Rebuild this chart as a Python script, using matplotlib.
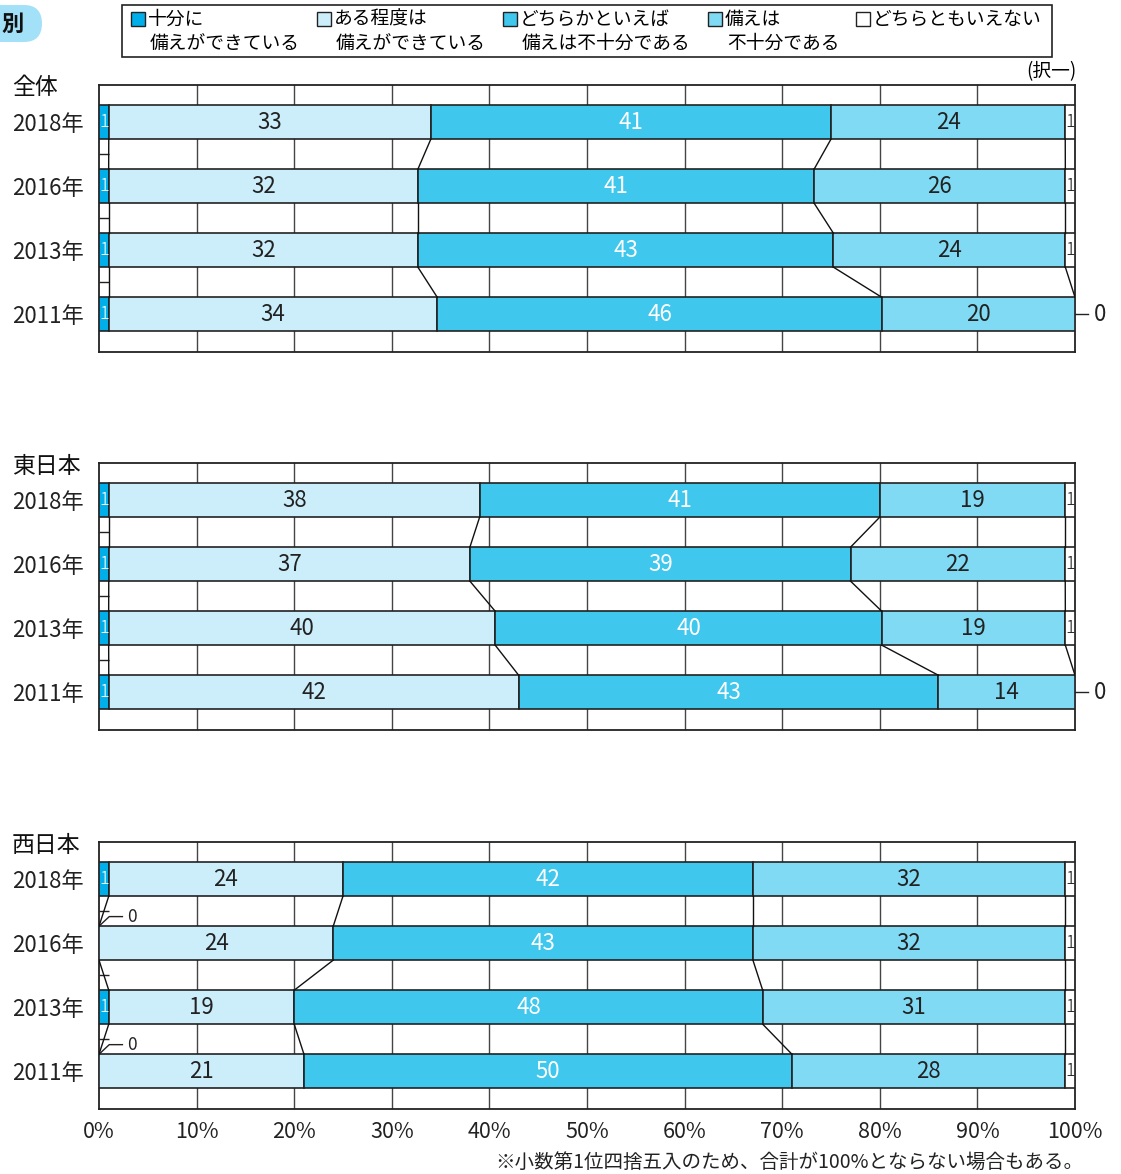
import matplotlib.pyplot as plt
from matplotlib.patches import Rectangle, FancyBboxPatch
import numpy as np

plt.rcParams['font.family'] = ['Noto Sans CJK JP', 'DejaVu Sans']

# data
years = ['2018年', '2016年', '2013年', '2011年']
regions = ['全体', '東日本', '西日本']
categories = ['十分に\n備えができている', 'ある程度は\n備えができている',
              'どちらかといえば\n備えは不十分である', '備えは\n不十分である',
              'どちらともいえない']
zentai = [[1, 33, 41, 24, 1],
          [1, 32, 41, 26, 1],
          [1, 32, 43, 24, 1],
          [1, 34, 46, 20, 0]]
higashi = [[1, 38, 41, 19, 1],
           [1, 37, 39, 22, 1],
           [1, 40, 40, 19, 1],
           [1, 42, 43, 14, 0]]
nishi = [[1, 24, 42, 32, 1],
         [0, 24, 43, 32, 1],
         [1, 19, 48, 31, 1],
         [0, 21, 50, 28, 1]]
xticks = [0, 10, 20, 30, 40, 50, 60, 70, 80, 90, 100]

colors = ['#00AEEA', '#CCEEFA', '#3FC7EE', '#80DAF4', '#FFFFFF']
BAR_H = 0.53

W, H = 1121, 1174
fig = plt.figure(figsize=(W / 100, H / 100), dpi=100)


def fx(px):
    return px / W


def fy(py):
    return 1 - py / H


# badge at top left
fig.patches.append(FancyBboxPatch((fx(-30), fy(42)), fx(72), 37 / H,
                                  boxstyle='round,pad=0,rounding_size=0.016',
                                  transform=fig.transFigure, facecolor='#A3E1F8',
                                  edgecolor='none'))
fig.text(fx(1), fy(24), '別', ha='left', va='center', fontsize=16,
         fontweight='bold', color='#111')

# legend box
fig.patches.append(Rectangle((fx(122), fy(57)), fx(1052) - fx(122), 52 / H,
                             transform=fig.transFigure, facecolor='white',
                             edgecolor='#222', lw=1.2))
leg_x = [131, 317, 503, 708, 856]
for x, c, lab in zip(leg_x, colors, categories):
    fig.patches.append(Rectangle((fx(x), fy(26)), 14 / W, 14 / H,
                                 transform=fig.transFigure, facecolor=c,
                                 edgecolor='#222', lw=1))
    lines = lab.split('\n')
    fig.text(fx(x + 17), fy(19), lines[0], va='center', fontsize=13.5)
    if len(lines) > 1:
        fig.text(fx(x + 19), fy(43), lines[1], va='center', fontsize=13.5)

fig.text(fx(1077), fy(72), '(択一)', ha='right', va='center', fontsize=13.5)

panel_tops = [85, 463, 842]
panel_h = 267
title_y = [88, 467, 845]

for r, rows in enumerate([zentai, higashi, nishi]):
    top = panel_tops[r]
    ax = fig.add_axes([fx(99), fy(top + panel_h), fx(1075) - fx(99), panel_h / H])
    ax.set_xlim(0, 100)
    ax.set_ylim(3.59, -0.58)
    for x in xticks[1:-1]:
        ax.axvline(x, color='#444', lw=1, zorder=1)

    cums = []
    for i, vals in enumerate(rows):
        vals = np.array(vals, float)
        cum = np.cumsum(vals) / vals.sum() * 100
        left = np.concatenate([[0], cum[:-1]])
        cums.append(cum)
        for k in range(5):
            w = cum[k] - left[k]
            if vals[k] == 0:
                continue
            ax.barh(i, w, left=left[k], height=BAR_H, color=colors[k],
                    edgecolor='#222', lw=1.2, zorder=3)
            cx = left[k] + w / 2
            if k in (0, 4):
                ax.text(cx, i, str(int(vals[k])), ha='center', va='center',
                        fontsize=13, fontweight='light',
                        color='white' if k == 0 else '#222', zorder=5)
            else:
                ax.text(cx, i, str(int(vals[k])), ha='center', va='center',
                        fontsize=16, color='white' if k == 2 else '#222', zorder=5)
        # zero labels
        if vals[4] == 0:
            ax.plot([100, 101.3], [i, i], color='#222', lw=1, clip_on=False)
            ax.text(102.6, i, '0', ha='center', va='center', fontsize=16,
                    color='#222', clip_on=False)
        if vals[0] == 0:
            ytop = i - BAR_H / 2
            ax.plot([0, 1.05, 2.4], [ytop, ytop - 0.15, ytop - 0.15],
                    color='#222', lw=1, zorder=4)
            ax.text(3.4, ytop - 0.15, '0', ha='center', va='center',
                    fontsize=12.5, color='#222', zorder=5)

    # connector lines between bars
    for i in range(len(rows) - 1):
        for k in range(4):
            ax.plot([cums[i][k], cums[i + 1][k]],
                    [i + BAR_H / 2, i + 1 - BAR_H / 2],
                    color='#111', lw=1, zorder=4)

    for s in ax.spines.values():
        s.set_color('#222')
        s.set_linewidth(1.3)
    ax.set_yticks(range(4))
    ax.set_yticklabels(years, fontsize=16, color='#222')
    ax.set_yticks([0.5, 1.5, 2.5], minor=True)
    ax.tick_params(axis='y', which='major', length=0, pad=11)
    ax.tick_params(axis='y', which='minor', direction='in', length=7,
                   width=1, color='#222')
    if r == 2:
        ax.set_xticks(xticks)
        ax.set_xticklabels([f'{x}%' for x in xticks], fontsize=15.5, color='#222')
        ax.tick_params(axis='x', length=0, pad=9)
    else:
        ax.set_xticks([])

    fig.text(fx(12), fy(title_y[r]), regions[r], va='center', fontsize=16.5,
             color='#111')

fig.text(fx(1083), fy(1162), '※小数第1位四捨五入のため、合計が100%とならない場合もある。',
         ha='right', va='center', fontsize=14, color='#222')

fig.savefig('out.png', dpi=100)
